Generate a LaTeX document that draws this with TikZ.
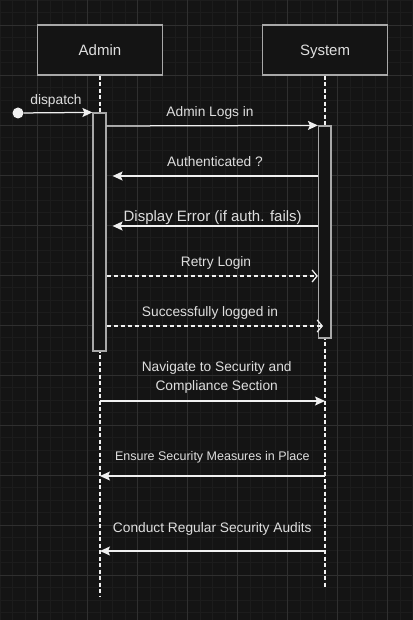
\documentclass[tikz,border=0pt]{standalone}
\usepackage{fontspec}
\setmainfont{Liberation Sans}
\usetikzlibrary{arrows.meta}
\definecolor{bg}{HTML}{141414}
\definecolor{gridminor}{HTML}{1C1C1C}
\definecolor{gridmajor}{HTML}{2F2F2F}
\definecolor{boxline}{HTML}{A8A8A8}
\definecolor{txt}{HTML}{DEDEDE}
\definecolor{wire}{HTML}{F0F0F0}
\tikzset{
  actorbox/.style={draw=boxline, line width=1.3pt, fill=bg, minimum width=125pt, minimum height=50pt,
    inner sep=0pt, text=txt, font=\fontsize{15}{18}\selectfont, text height=10.7pt, text depth=0pt},
  actbar/.style={draw=boxline, line width=1.2pt, fill=bg, inner sep=0pt},
  lifeline/.style={draw=wire, line width=1.3pt, dash pattern=on 4pt off 2.5pt},
  msg/.style={draw=wire, line width=1.25pt, -{Stealth[length=10pt,width=9pt,inset=2pt]}},
  reply/.style={draw=wire, line width=1.25pt, dash pattern=on 4pt off 3pt, -{Straight Barb[length=5pt,width=12pt,line width=1.25pt]}},
  lbl/.style={text=txt, inner sep=0pt, font=\fontsize{13.75}{19}\selectfont, text height=9.85pt, text depth=2.9pt, align=center},
}
\begin{document}
\begin{tikzpicture}[x=1pt,y=-1pt]
\useasboundingbox (0,0) rectangle (412,620);
\fill[bg] (0,0) rectangle (412,620);
% grid
\foreach \i in {0,...,33} {\draw[gridminor, line width=0.8pt] (\i*12.5,0) -- (\i*12.5,620);}
\foreach \j in {0,...,49} {\draw[gridminor, line width=0.8pt] (0,\j*12.5) -- (412,\j*12.5);}
\foreach \i in {0,...,7} {\draw[gridmajor, line width=0.9pt] (37.5+\i*50,0) -- (37.5+\i*50,620);}
\foreach \j in {0,...,11} {\draw[gridmajor, line width=0.9pt] (0,25+\j*50) -- (412,25+\j*50);}

% actors
\node[actorbox] (admin) at (100,50) {Admin};
\node[actorbox] (system) at (325,50) {System};
\coordinate (aend) at (100,597);
\coordinate (send) at (325,588);
\draw[lifeline] (admin.south) -- (aend);
\draw[lifeline] (system.south) -- (send);

% activation bars
\node[actbar, minimum width=13pt, minimum height=238pt] (abar) at (99.5,232) {};
\node[actbar, minimum width=12.5pt, minimum height=212pt] (sbar) at (324.75,232) {};

% dispatch
\node[circle, fill=wire, draw=none, minimum size=11pt, inner sep=0pt] (start) at (18,113) {};
\draw[msg] (start) -- (abar.north west);
\node[lbl] (ldispatch) at (56,101) {dispatch};

% messages
\draw[msg] (abar.east |- 0,126) -- (sbar.north west);
\node[lbl] (l1) at (210,113.3) {Admin Logs in};

\draw[msg, shorten >=6pt] (sbar.west |- 0,176) -- (abar.east |- 0,176);
\node[lbl] (l2) at (215,163.3) {Authenticated ?};

\draw[msg, shorten >=6pt] (sbar.west |- 0,226) -- (abar.east |- 0,226);
\node[lbl, font=\fontsize{15}{18}\selectfont, text height=10.7pt, text depth=3.2pt] (l3) at (212.7,217.3) {Display Error (if auth. fails)};

\draw[reply] (abar.east |- 0,276) -- (sbar.west |- 0,276);
\node[lbl] (l4) at (216,263.5) {Retry Login};

\draw[reply, shorten >=2pt] (abar.east |- 0,326) -- (send |- 0,326);
\node[lbl] (l5) at (210,313.5) {Successfully logged in};

\draw[msg] (aend |- 0,401) -- (send |- 0,401);
\node[lbl] (l6) at (216.7,387.5) {Navigate to Security and\\Compliance Section};

\draw[msg] (send |- 0,476) -- (aend |- 0,476);
\node[lbl, font=\fontsize{12.5}{15}\selectfont, text height=9pt, text depth=2.6pt] (l7) at (212.3,457.3) {Ensure Security Measures in Place};

\draw[msg] (send |- 0,551) -- (aend |- 0,551);
\node[lbl] (l8) at (212.3,529.3) {Conduct Regular Security Audits};
\end{tikzpicture}
\end{document}
